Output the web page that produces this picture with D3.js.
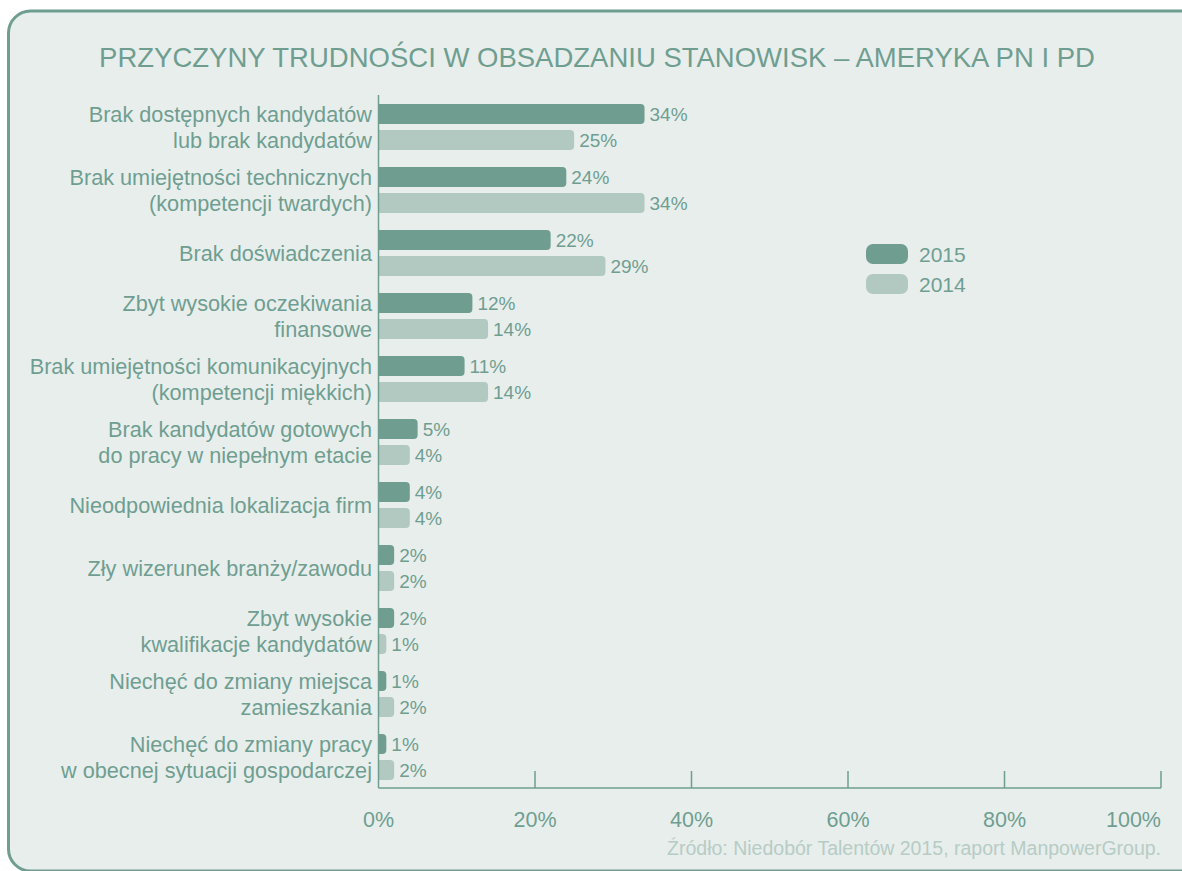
<!DOCTYPE html>
<html>
<head>
<meta charset="utf-8">
<script src="https://cdn.jsdelivr.net/npm/d3@7"></script>
<style>
  html, body { margin: 0; padding: 0; background: #ffffff; }
  svg { display: block; font-family: "Liberation Sans", Arial, Helvetica, sans-serif; }
</style>
</head>
<body>
<svg id="chart"></svg>
<script>
const categories = [
  "Brak dostępnych kandydatów\nlub brak kandydatów",
  "Brak umiejętności technicznych\n(kompetencji twardych)",
  "Brak doświadczenia",
  "Zbyt wysokie oczekiwania\nfinansowe",
  "Brak umiejętności komunikacyjnych\n(kompetencji miękkich)",
  "Brak kandydatów gotowych\ndo pracy w niepełnym etacie",
  "Nieodpowiednia lokalizacja firm",
  "Zły wizerunek branży/zawodu",
  "Zbyt wysokie\nkwalifikacje kandydatów",
  "Niechęć do zmiany miejsca\nzamieszkania",
  "Niechęć do zmiany pracy\nw obecnej sytuacji gospodarczej"
];
const series = ["2015", "2014"];
const values2015 = [34, 24, 22, 12, 11, 5, 4, 2, 2, 1, 1];
const values2014 = [25, 34, 29, 14, 14, 4, 4, 2, 1, 2, 2];
const xTicks = [0, 20, 40, 60, 80, 100];
const title = "PRZYCZYNY TRUDNOŚCI W OBSADZANIU STANOWISK – AMERYKA PN I PD";
const source = "Źródło: Niedobór Talentów 2015, raport ManpowerGroup.";

const W = 1182, H = 871;
const teal = "#6f9e91", light = "#b2c9c2", bg = "#e8eeec", srcColor = "#b6ccc5";

const svg = d3.select("#chart").attr("width", W).attr("height", H);

// panel
svg.append("rect")
  .attr("x", 8.5).attr("y", 11).attr("width", 1220).attr("height", 860).attr("rx", 22)
  .attr("fill", bg).attr("stroke", teal).attr("stroke-width", 3);

svg.append("text")
  .attr("x", 597).attr("y", 67).attr("text-anchor", "middle")
  .attr("fill", teal).attr("font-size", 27.5)
  .text(title);

const rows = categories.map((c, i) => ({ label: c, values: [values2015[i], values2014[i]] }));

const x = d3.scaleLinear().domain([0, 100]).range([378.5, 1161]);
const y = d3.scaleBand().domain(d3.range(categories.length)).range([104, 780]).paddingInner(0.27).paddingOuter(0);
const yIn = d3.scaleBand().domain(series).range([0, y.bandwidth()]).paddingInner(0.23);

// right-rounded bar
const barPath = (x0, y0, w, h, r) => {
  r = Math.min(r, w, h / 2);
  return `M${x0},${y0}H${x0 + w - r}Q${x0 + w},${y0} ${x0 + w},${y0 + r}V${y0 + h - r}Q${x0 + w},${y0 + h} ${x0 + w - r},${y0 + h}H${x0}Z`;
};

const group = svg.selectAll("g.row").data(rows).enter().append("g")
  .attr("class", "row")
  .attr("transform", (d, i) => `translate(0, ${y(i)})`);

group.selectAll("path").data(d => d.values.map((v, j) => ({ v, s: series[j] }))).enter().append("path")
  .attr("d", d => barPath(x(0), yIn(d.s), x(d.v) - x(0), yIn.bandwidth(), 4))
  .attr("fill", d => d.s === "2015" ? teal : light);

group.selectAll("text.val").data(d => d.values.map((v, j) => ({ v, s: series[j] }))).enter().append("text")
  .attr("class", "val")
  .attr("x", d => x(d.v) + 5)
  .attr("y", d => yIn(d.s) + yIn.bandwidth() / 2)
  .attr("dy", "0.36em")
  .attr("fill", teal).attr("font-size", 19)
  .text(d => d.v + "%");

// category labels
group.each(function (d) {
  const lines = d.label.split("\n");
  const t = d3.select(this).append("text")
    .attr("text-anchor", "end").attr("fill", teal).attr("font-size", 21.7);
  if (lines.length === 1) {
    t.append("tspan").attr("x", 372).attr("y", y.bandwidth() / 2).attr("dy", "0.36em").text(lines[0]);
  } else {
    lines.forEach((l, k) => {
      const s = series[k];
      t.append("tspan").attr("x", 372).attr("y", yIn(s) + yIn.bandwidth() / 2).attr("dy", "0.36em").text(l);
    });
  }
});

// axes
const axisY = 788;
svg.append("line")
  .attr("x1", x(0)).attr("x2", x(0)).attr("y1", 95).attr("y2", axisY)
  .attr("stroke", teal).attr("stroke-width", 1.5);
svg.append("line")
  .attr("x1", x(0)).attr("x2", x(100)).attr("y1", axisY).attr("y2", axisY)
  .attr("stroke", teal).attr("stroke-width", 1.5);
svg.selectAll("line.tick").data(xTicks.slice(1)).enter().append("line")
  .attr("class", "tick")
  .attr("x1", d => x(d)).attr("x2", d => x(d)).attr("y1", axisY).attr("y2", axisY - 17)
  .attr("stroke", teal).attr("stroke-width", 1.5);
svg.selectAll("text.tickLabel").data(xTicks).enter().append("text")
  .attr("class", "tickLabel")
  .attr("x", d => x(d)).attr("y", 827)
  .attr("text-anchor", d => d === 100 ? "end" : "middle")
  .attr("fill", teal).attr("font-size", 21.5)
  .text(d => d + "%");

// legend
const legend = svg.append("g").attr("transform", "translate(866, 244)");
const item = legend.selectAll("g").data(series).enter().append("g")
  .attr("transform", (d, i) => `translate(0, ${i * 30})`);
item.append("rect")
  .attr("width", 42).attr("height", 20).attr("rx", 7)
  .attr("fill", d => d === "2015" ? teal : light);
item.append("text")
  .attr("x", 53).attr("y", 10).attr("dy", "0.36em")
  .attr("fill", teal).attr("font-size", 21)
  .text(d => d);

svg.append("text")
  .attr("x", 1161).attr("y", 855).attr("text-anchor", "end")
  .attr("fill", srcColor).attr("font-size", 19.5)
  .text(source);
</script>
</body>
</html>
